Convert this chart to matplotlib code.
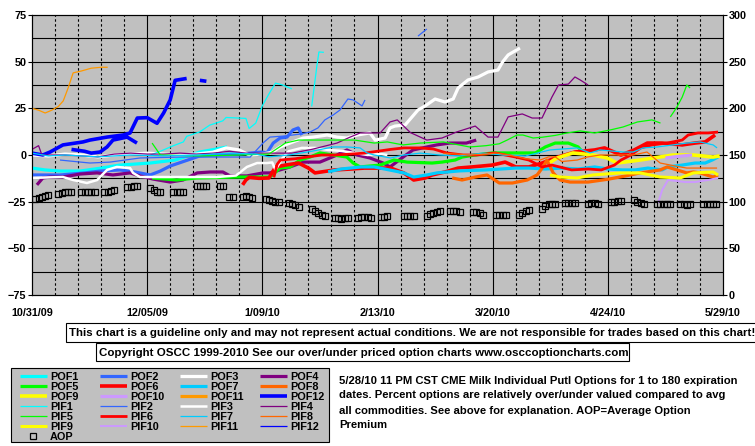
import numpy as np
import matplotlib
matplotlib.use("Agg")
import matplotlib.pyplot as plt
from matplotlib.patches import Rectangle

plt.rcParams['font.family'] = ['Liberation Sans', 'DejaVu Sans']
plt.rcParams['font.weight'] = 'bold'

W, H = 755, 446

# x = days since 10/31/09, y = percent over/under valued
date_days = [0, 35, 70, 105, 140, 175, 210]
date_labels = ['10/31/09', '12/05/09', '1/09/10', '2/13/10', '3/20/10', '4/24/10', '5/29/10']

N = None

pof1_d = [0, 4, 8.5, 14.6, 21, 26.7, 35.9, 43.5, 51, 56, 59.3]
pof1_v = [-7, -8, -8.6, -8.6, -7, -5.4, -4.3, -2.7, 1.6, 3.2, 4.3]

pof2_d = [0, 8.5, 16, 20.7, 26.7, 31.3, 35.9, 39, 42, 45, 48, 51, 55.6, 63.2, 69.9, 71.4, 73.3, 75.4, 77.5, 79.3, 80.9, 82]
pof2_v = [-10.7, -10.7, -9.6, -8.6, -8, -9.1, -10.7, -8.6, -5.9, -4.1, -2.3, -0.5, 0, 0.5, 1.6, 1.1, 6.4, 9.1, 9.6, 13.4, 14.5, 10.7]

pof3_d = [0, 5, 10, 15, 20, 25, 30, 35, 40, 45, 50, 55, 59, 63, 66, 70, 73, 75.4, 78.4, 82.4, 85.4, 89.7, 92.7, 95.7,
          98.8, 102.7, 104.3, 107.3, 108.8, 110.3, 113.4, 115.5, 117.3, 119.5, 122.5, 125.5, 128, 129.5, 132.5,
          135.6, 138.6, 141.6, 143, 144.7, 148.3]
pof3_v = [0, -0.5, 0.5, 0, -1, 0, 0.5, 1, 0.5, 0, 0.5, 1.5, 3.8, 2.7, 0, 0.5, 1.5, 4.3, 6.4, 9.1, 9.6, 10.7, 9.6, 9.1,
          10.7, 11.8, 8, 9.1, 14.5, 15.5, 16.1, 20.4, 24.1, 26.3, 30, 28.4, 30, 35.9, 40.2, 41.8, 44.5, 45.5, 49.8,
          53.6, 57.3]

pof4_d = [1.5, 3.3, 5.5, 9.4, 14.6, 19.8, 24.6, 29.8, 32.8, 36.8, 42, 45.9, 50.2, 54.1, 58, 60.2, 65.3, 70.2, 72.3,
          78.4, 82.4, 87.5, 92.7, 95.7, 98.8, 102.7, 106.7, 108.8, 112.8, 115.8, 120, 123, 127, 132, 135]
pof4_v = [-16, -12.3, -11.8, -11.8, -10.2, -9.6, -10.7, -9.6, -11.2, -12.9, -14.5, -13.4, -9.6, -9.1, -9.1, -11.2,
          -11.2, -9.6, -9.6, -6.4, -3.8, -3.8, 0, 2.7, 0, -1.6, -4.3, -6.4, -1.1, 2.7, 4.3, 5.4, 6.4, 6.4, 8]

pof5_d = [36.5, 44, 50, 62.3, 72.3, 75.4, 78.4, 81.5, 84.5, 87.5, 91.5, 95.7, 97.6, 99.7, 105.8, 110, 114, 121.6,
          124.6, 128.6, 130.7, 134.7, 140, 153, 156, 159, 163, 166, 167.5]
pof5_v = [-12.3, -13.4, -12.3, -11.8, -11.8, -7, -6.4, -2.7, -1.1, 1.1, 0, -1.1, -4.3, -6.4, -5.4, -2.7, -3.8, -4.3,
          -3.8, -2.7, -1.1, 0, 1.1, 1.1, 4.3, 6.4, 6.4, 4.3, 1.1]

pof6_d = [64, 65, 66, 69, 72, 74, 77, 81, 84, 86, 92, 97, 101, 109, 113, 116, 119.5, 121.6, 125.5, 129.5, 133.7,
          139.8, 143.8, 147, 151, 155, 160, 165, 171, 174, 179, 183, 187, 191.5, 197.6, 201.5, 204.6, 207.6]
pof6_v = [-16, -13.4, -12, -12.5, -12.3, -6.5, -5.4, -4.3, -7, -9.6, -8, -7.5, -7, -7, -9.6, -13.4, -12.3, -10.7,
          -9.1, -7, -6.4, -5.4, -3.8, -6.4, -6.4, -4.3, -1, 1.6, 2.7, 3.8, 0, 2.7, 6.4, 6.4, 5.4, 6.4, 7, 10.7]

pof7_d = [90, 94, 100, 104, 110, 113, 116, 120, 123, 130, 138, 147, 151, 156, 161, 166, 171, 175, 179.3, 183.3,
          187.2, 191.5, 193.3, 197.6, 201.5, 204.6, 206.7, 208.5]
pof7_v = [-9, -7.5, -6.4, -6.4, -8.5, -9.6, -11.8, -10.7, -9.6, -8.5, -8, -7, -7, -7.5, -7, -7.5, -6.4, -7.5, -8,
          -8, -7, -8, -6.4, -5.4, -4.3, -4.3, -2.7, -1.1]

pof8_d = [127.7, 130.7, 134.7, 138.3, 142, 146, 150.5, 153.5, 155.3, 156.5, 158.4, 160.5, 163.5, 167.5, 169, 175,
          181, 184.8, 190.9, 193, 199, 201, 203, 207, 208.5]
pof8_v = [-12.3, -13.4, -11.8, -10.7, -15, -15, -13.4, -10.7, -6.4, -2.7, -9.6, -13.4, -14.5, -14.5, -14.5, -13,
          -11, -9.6, -8, -6.4, -9.6, -9.1, -9.6, -11.8, -10.7]

pof9_d = [157.4, 159.6, 164.4, 170.5, 174.8, 177.8, 184.8, 188.8, 194.8, 201, 207, 209]
pof9_v = [-4, -1.6, 1.1, 0, -1.6, -4.3, -2.7, -1.6, 0, 0, -1.1, -0.5]

pof10_d = [192.5, 196, 200.6]
pof10_v = [-1.6, -0.8, 0]

pof11_d = []
pof11_v = []

pof12_d = [0, 3.3, 5.5, 9.4, 15.5, 17.6, 22.8, 27.7, 29.8, 32, 35, 38, 40, 42, 43.5, 47, N, 51, 53,
           N, 12, 16, 18, 20.7, 22.8, 24.6, 28.9, 31.9]
pof12_v = [1, 0, 1.6, 5.4, 7, 8, 9.6, 10.7, 11.8, 19.8, 20, 17, 22.5, 29.5, 40, 41, N, 40, 39.5,
           N, 3, 2, 1, 1.6, 4.3, 8, 9.6, 6.4]

pif1_d = [36, 39, 43, 46, 47, 51, 54, 58, 59, 65, 66, 68, 70, 72, 74, 76, 79, N, 85, 86.6, 87.2, 88.7]
pif1_v = [0, 2, 5, 7, 10, 12.4, 16, 18.3, 20.1, 19.6, 14.2, 17.1, 26.4, 32.7, 38.5, 37.6, 35.4, N, 26, 48, 55.2, 55]

pif2_d = [8.5, 17.6, 23.7, 32.8, 45, 57, 66.3, 70.2, 72.3, 76.9, 81.5, 84.5, 86.9, 89, 91.5, 93.6, 96, 97.6,
          100.3, 101.2, N, 117.3, 120]
pif2_v = [-2.7, -4.3, -3.8, -1.6, -1.1, -1.1, -1.1, 6.4, 9.6, 10.2, 11.2, 12.3, 14.5, 18.8, 21.4, 24.1, 30, 29.5,
          26.3, 29.5, N, 63.7, 67.5]

pif3_d = [0, 5, 9.4, 12.5, 16.7, 19.8, 22.8, 25.8, 29.8, 30.7, 32.8, 44, 56, 62, 65.3, 68.4, 71.4, 73, 74, 76, 78,
          82, 86, 90, 94, 98, 102, 106, 108]
pif3_v = [-12.3, -12, -11.8, -13.4, -15, -13.4, -8, -6.4, -7, -9.6, -11.8, -11.8, -11.8, -11, -6.4, -4.3, -4.3,
          -4, -8, -2, 2, 3.8, 3.8, 2.7, 2.2, 1.1, 0, 0.5, 0]

pif4_d = [0, 2, 3, 10, 15, 20, 25, 30, 35, 40, 45, 50, 55, 60, 65, 70, 75, 79, 85, 92.7, 96.7, 99.7, 105.8, 108.8,
          111, 115, 120, 124.6, 129, 134.7, 138.6, 141.6, 144.7, 149, 152, 155, 158, 160, 163, 165, 166.6, 169]
pif4_v = [3, 5, 0, 0, -0.5, -1, 0.5, 1, 0.5, 0.5, 1, 0.5, 1, 2, 1, 1, 1, 1, 3, 6.4, 9.6, 11.8, 11.8, 17.7, 18.8,
          12, 8, 9.1, 12.3, 15.5, 9.6, 9.6, 20.4, 22, 19.8, 19.8, 31, 37.5, 38, 41.8, 40.2, 37.5]

pif5_d = [36.5, 39, 51, 63, 72, 77, 81, 93, 98, 104, 108, 112.8, 118, 125, 133, 138, 142, 144.4, 147.4, 149.2,
          152.3, 155, 159, 162.6, 166.6, 171, 175.7, 179.6, 184, 188.4, 191, N, 194, 196, 197.6, 199, 200]
pif5_v = [6.4, 0, -0.5, 0, 0.5, 6.4, 8, 8, 8, 6.4, 7, 5.4, 6.4, 7, 4.3, 5, 6, 8, 10.7, 10.7, 9.1, 9.5, 10.5, 11.8,
          12.9, 11.8, 13.4, 15, 17.7, 18.8, 17.1, N, 20.4, 25.7, 31, 37.5, 35.9]

pif6_d = [73.5, 74.5, 75.5, 80, 84, 88, 92, 97, 101, 105, 109, 113, 118, 122, 126, 131, 135, 140.7, 147, 151, 155,
          158, 164, 169, 173, 177, 179, 182, 185, 188.5, 193, 197.6, 199.4, 202.4, 205.5, 208.5]
pif6_v = [-12, -5, -2.7, -2, -1, 0, 0, 0.5, 1, 2, 3, 3.8, 3.8, 3.2, 1.1, 0, 0, 1.1, -1.1, -2.7, -6.4, -5.4, -8,
          -7.5, -8, -5.4, -2.7, 0, 3.8, 5.4, 6.4, 8, 10.7, 11.8, 11.8, 12.3]

pif7_d = [0, 5, 10, 20, 30, 40, 50, 60, 68, 72, 78, 85, 91.5, 95.7, 99.7, 101.8, 104, 109, 113, 118, 124, 130, 137,
          143, 150, 157.4, 165.7, 169.6, 172.6, 179.6, 182.7, 185.7, 190, 194.8, 199, 203, 207, 208.2]
pif7_v = [1, -0.5, 0, -1, 0, -0.5, 0, 1, 0.5, -1, 0, 2, 4.3, 4.3, 3.8, 1.1, 0, -1.6, 0, 1, 0, -0.5, 1, 0, -0.5, 2.7,
          3.8, 1.1, 2.7, 1.6, 1.6, 3.8, 4.3, 5.4, 6.4, 7, 5.4, 3.8]

pif8_d = [125, 133, 138, 141, 145, 150, 154.4, 157, 159, 161, 165.7, 168.7, 172.6, 182.7, 186.9, 190.9, 197, 199,
          205, 208.2]
pif8_v = [1, 0, 0.5, 1.1, 0, -2, -2.7, -1, -1, -3.5, -2.7, -1.1, 0, 0, 1.6, -4.3, -6.4, -7, -7, -7]

pif9_d = [157.4, 160.5, 165.7, 170.5, 178.7, 184.8, 190.9, 197, 201, 207, 208.5]
pif9_v = [-10.7, -11.8, -12.3, -10.7, -9.6, -9.6, -11.8, -12.3, -9.6, -9.1, -10.7]

pif10_d = [190.3, 191.5, 193.3, 198.5, 201.5, 205.5, 208.5]
pif10_v = [-25.7, -18.8, -13.4, -14.5, -14.5, -13.4, -12.3]

pif11_d = [0, 2, 4, 6, 8, 9.5, 11, 12.5, 15, 18, 21, 23]
pif11_v = [25, 24, 22.5, 24, 26, 29, 36, 44, 45, 46.5, 47, 47]

pif12_d = []
pif12_v = []

# average option premium (right axis), one list per week of trading days
aop_weeks = [
    [103, 104, 105, 106, 107], [108, 109, 110, 110, 110], [110, 110, 110, 110, 110], [110, 110, 111, 113],
    [116, 116, 117, 117], [115, 113, 110, 110], [110, 110, 110, 110], [117, 117, 117, 117],
    [117, 117, N, 105, 105], [105, 106, 105, 104], [103, 102, 101, 100, 100], [99, 97, 96, 94],
    [92, 90, 88, 86, 85], [82, 82, 81, 82, 83], [83, 84, 84, 84, 83], [84, 84, 85], [85, 85, 85, 85],
    [85, 87, 88, 89, 90], [90, 90, 90, 89], [89, 89, 88, 86], [86, 86, 86, 86], [86, 88, 90, 91],
    [92, 95, 97, 98, 98], [99, 99, 99, 99], [98, 99, 99, 98], [100, 100, 101, 101], [102, 100, 99, 98],
    [98, 98, 98, 98, 98], [98, 97, 96, 97], [98, 98, 98, 98, 98],
]
aop_first_day = 1

series = [
    ('POF1', pof1_d, pof1_v, '#00FFFF', 2.3), ('POF2', pof2_d, pof2_v, '#3366FF', 2.3),
    ('POF3', pof3_d, pof3_v, '#FFFFFF', 2.3), ('POF4', pof4_d, pof4_v, '#800080', 2.3),
    ('POF5', pof5_d, pof5_v, '#00FF00', 2.3), ('POF6', pof6_d, pof6_v, '#FF0000', 2.6),
    ('POF7', pof7_d, pof7_v, '#00CCFF', 2.3), ('POF8', pof8_d, pof8_v, '#FF6600', 2.3),
    ('POF9', pof9_d, pof9_v, '#FFFF00', 2.6), ('POF10', pof10_d, pof10_v, '#CC99FF', 2.3),
    ('POF11', pof11_d, pof11_v, '#FF9900', 2.3), ('POF12', pof12_d, pof12_v, '#0000FF', 2.6),
    ('PIF1', pif1_d, pif1_v, '#00FFFF', 0.9), ('PIF2', pif2_d, pif2_v, '#3366FF', 0.9),
    ('PIF3', pif3_d, pif3_v, '#FFFFFF', 1.8), ('PIF4', pif4_d, pif4_v, '#800080', 0.9),
    ('PIF5', pif5_d, pif5_v, '#00FF00', 0.9), ('PIF6', pif6_d, pif6_v, '#FF0000', 2.0),
    ('PIF7', pif7_d, pif7_v, '#00CCFF', 0.9), ('PIF8', pif8_d, pif8_v, '#FF6600', 0.9),
    ('PIF9', pif9_d, pif9_v, '#FFFF00', 2.2), ('PIF10', pif10_d, pif10_v, '#CC99FF', 1.4),
    ('PIF11', pif11_d, pif11_v, '#FF9900', 0.9), ('PIF12', pif12_d, pif12_v, '#0000FF', 0.9),
]


def arr(a):
    return np.array([np.nan if x is None else x for x in a], dtype=float)


fig = plt.figure(figsize=(W / 100, H / 100), dpi=100)
ax = fig.add_axes([32 / W, 1 - 295 / H, 691 / W, 280 / H])
ax.set_facecolor('#C0C0C0')
ax.set_xlim(0, 210)
ax.set_ylim(-75, 75)

# grid
for yv in np.arange(-62.5, 75, 12.5):
    ax.axhline(yv, color='black', lw=0.8, zorder=1)
for d in range(7, 210, 7):
    if d % 35 == 0:
        ax.axvline(d, color='black', lw=0.8, zorder=1)
    else:
        ax.axvline(d, color='black', lw=0.8, ls=(0, (2.2, 2.2)), zorder=1)

for name, d, v, c, lw in series:
    if len(d):
        ax.plot(arr(d), arr(v), color=c, lw=lw, solid_capstyle='butt', zorder=3)

ax.set_yticks([-75, -50, -25, 0, 25, 50, 75])
ax.set_xticks(date_days)
ax.set_xticklabels(date_labels)
ax.tick_params(axis='y', length=3, width=0.8, pad=1, labelsize=7.8)
ax.tick_params(axis='x', length=0, pad=9, labelsize=7.8)
for s in ax.spines.values():
    s.set_linewidth(0.8)

ax2 = ax.twinx()
ax2.set_ylim(0, 300)
ax2.set_yticks(range(0, 301, 50))
ax2.tick_params(axis='y', length=3, width=0.8, pad=1, labelsize=7.8)
aop_x, aop_y = [], []
for k, week in enumerate(aop_weeks):
    for i, val in enumerate(week):
        aop_x.append(aop_first_day + 7 * k + i)
        aop_y.append(np.nan if val is None else val)
ax2.plot(aop_x, aop_y, ls='none', marker='s', ms=3.8, mfc='none', mec='black', mew=0.9, zorder=4)

# overlay in pixel coordinates for boxes and legend
ov = fig.add_axes([0, 0, 1, 1])
ov.set_xlim(0, W)
ov.set_ylim(H, 0)
ov.axis('off')

ov.add_patch(Rectangle((66, 323), 700, 19, fc='white', ec='black', lw=0.8, clip_on=False))
ov.text(69, 333, 'This chart is a guideline only and may not represent actual conditions. '
        'We are not responsible for trades based on this chart!', fontsize=8.25, va='center', ha='left')
ov.add_patch(Rectangle((96, 343), 533, 18, fc='white', ec='black', lw=0.8))
ov.text(99, 352.5, 'Copyright OSCC 1999-2010 See our over/under priced option charts www.osccoptioncharts.com',
        fontsize=8.25, va='center', ha='left')

info_lines = ['5/28/10 11 PM CST CME Milk Individual Putl Options for 1 to 180 expiration',
              'dates. Percent options are relatively over/under valued compared to avg',
              'all commodities. See above for explanation. AOP=Average Option',
              'Premium']
for i, line in enumerate(info_lines):
    ov.text(339, 380.5 + 15 * i, line, fontsize=8.1, va='center', ha='left')

ov.add_patch(Rectangle((11, 368), 318, 74, fc='#C0C0C0', ec='black', lw=0.8))
for idx, (name, d, v, c, lw) in enumerate(series):
    row, col = divmod(idx, 4)
    yy = 376 + 10 * row
    x0 = 20 + 80 * col
    ov.plot([x0, x0 + 27], [yy, yy], color=c, lw=lw, solid_capstyle='butt')
    ov.text(x0 + 30, yy + 0.5, name, fontsize=7.8, va='center', ha='left')
ov.plot([33], [436], ls='none', marker='s', ms=3.8, mfc='none', mec='black', mew=0.9)
ov.text(50, 436.5, 'AOP', fontsize=7.8, va='center', ha='left')

fig.savefig('out.png', dpi=100, facecolor='white')
